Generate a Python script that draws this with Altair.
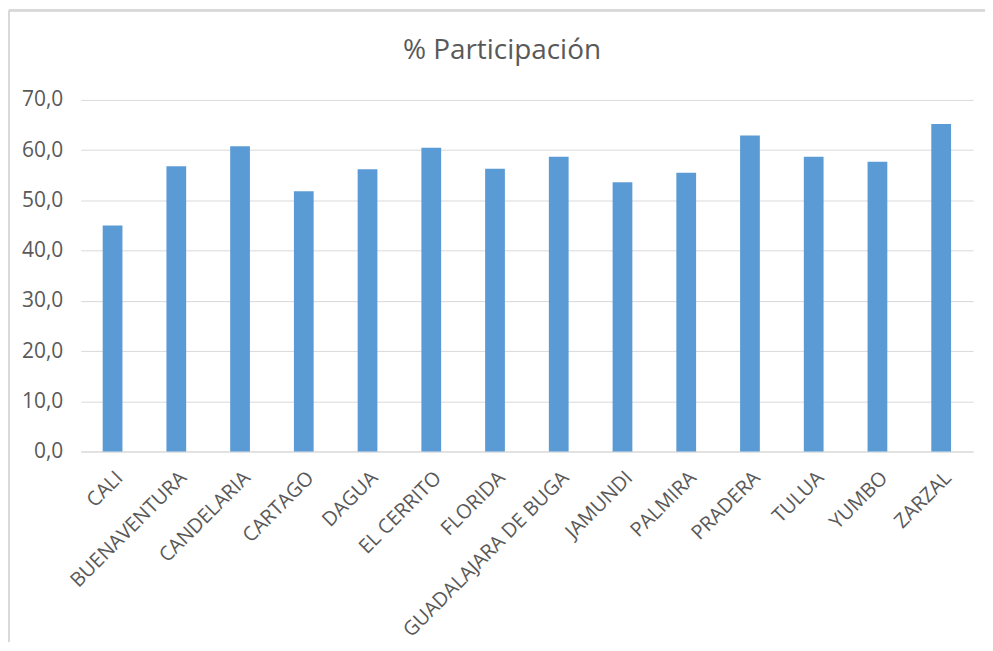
import altair as alt
import pandas as pd

municipios = ["CALI", "BUENAVENTURA", "CANDELARIA", "CARTAGO", "DAGUA", "EL CERRITO",
              "FLORIDA", "GUADALAJARA DE BUGA", "JAMUNDI", "PALMIRA", "PRADERA",
              "TULUA", "YUMBO", "ZARZAL"]
participacion = [45.0, 56.8, 60.8, 51.8, 56.2, 60.5, 56.3, 58.7, 53.6, 55.5, 62.9, 58.7, 57.7, 65.2]
y_ticks = [0, 10, 20, 30, 40, 50, 60, 70]
titulo = "% Participación"

df = pd.DataFrame({"municipio": municipios, "valor": participacion})

FONT = "Open Sans"
TXT = "#595959"

bars = alt.Chart(df).mark_bar(color="#5B9BD5").encode(
    x=alt.X("municipio:N", sort=municipios, title=None,
            scale=alt.Scale(paddingInner=0.69, paddingOuter=0.345),
            axis=alt.Axis(labelAngle=-45, labelAlign="right", labelBaseline="top",
                          labelPadding=16, ticks=False, domain=True, domainColor="#D9D9D9",
                          labelFont=FONT, labelFontSize=20, labelColor=TXT, labelLimit=400)),
    y=alt.Y("valor:Q", title=None,
            scale=alt.Scale(domain=[0, 70], nice=False),
            axis=alt.Axis(values=y_ticks, ticks=False, domain=False, gridColor="#D9D9D9",
                          labelExpr="replace(format(datum.value, '.1f'), '.', ',')",
                          labelFont=FONT, labelFontSize=21, labelColor=TXT, labelPadding=18)),
)

frame_left = alt.Chart(df).mark_rule(color="#D9D9D9", strokeWidth=2).encode(
    x=alt.value(-72), y=alt.value(-90), y2=alt.value(545))
frame_top = alt.Chart(df).mark_rule(color="#D9D9D9", strokeWidth=2).encode(
    x=alt.value(-72), x2=alt.value(920), y=alt.value(-90))

title_text = alt.Chart(pd.DataFrame({"t": [titulo]})).mark_text(
    font=FONT, fontSize=28, color=TXT, align="center", baseline="alphabetic"
).encode(x=alt.value(423), y=alt.value(-41), text="t:N")

chart = alt.layer(frame_left, frame_top, bars, title_text).properties(
    width=896, height=353,
    padding={"left": 73, "top": 91, "right": 12, "bottom": 190},
    autosize=alt.AutoSizeParams(type="none"),
).configure_view(stroke=None)

chart.save("out.html", embed_options={"renderer": "svg", "actions": False})
